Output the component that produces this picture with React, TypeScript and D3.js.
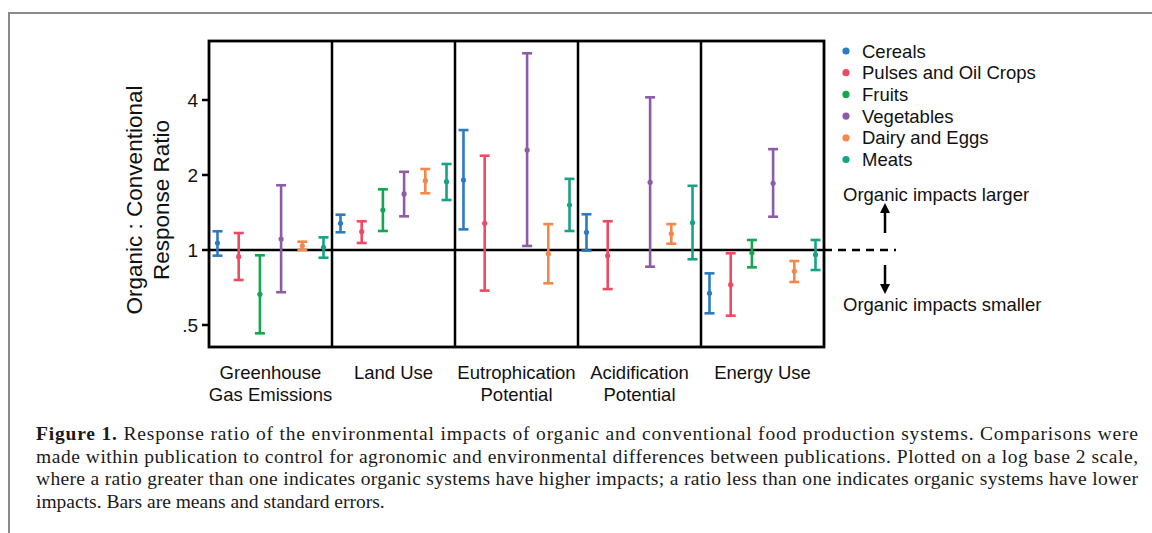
import React from 'react';
import * as d3 from 'd3';

// impact categories (x panels)
const categories = [
  ['Greenhouse', 'Gas Emissions'],
  ['Land Use'],
  ['Eutrophication', 'Potential'],
  ['Acidification', 'Potential'],
  ['Energy Use'],
];

const seriesNames = ['Cereals', 'Pulses and Oil Crops', 'Fruits', 'Vegetables', 'Dairy and Eggs', 'Meats'];
const seriesColors = ['#2b7bc1', '#ef4a63', '#14a74f', '#8e5ba8', '#f4874a', '#15a386'];

// [mean, lower, upper] per category, null where no data
type Est = [number, number, number] | null;
const cereals: Est[] = [[1.067, 0.949, 1.189], [1.28, 1.178, 1.386], [1.91, 1.21, 3.03], [1.178, 0.994, 1.391], [0.67, 0.557, 0.806]];
const pulses: Est[] = [[0.94, 0.758, 1.17], [1.184, 1.067, 1.304], [1.28, 0.687, 2.39], [0.949, 0.697, 1.304], [0.726, 0.545, 0.97]];
const fruits: Est[] = [[0.664, 0.463, 0.952], [1.447, 1.192, 1.752], null, null, [0.975, 0.852, 1.097]];
const vegetables: Est[] = [[1.107, 0.677, 1.819], [1.679, 1.365, 2.06], [2.52, 1.038, 6.16], [1.87, 0.857, 4.1], [1.852, 1.36, 2.54]];
const dairy: Est[] = [[1.04, 1.003, 1.08], [1.897, 1.689, 2.114], [0.964, 0.735, 1.27], [1.162, 1.06, 1.27], [0.821, 0.744, 0.903]];
const meats: Est[] = [[1.025, 0.931, 1.124], [1.88, 1.587, 2.214], [1.516, 1.192, 1.93], [1.287, 0.918, 1.81], [0.958, 0.831, 1.097]];
const seriesData = [cereals, pulses, fruits, vegetables, dairy, meats];

const yTicks = [0.5, 1, 2, 4];
const yTickLabels = ['.5', '1', '2', '4'];

const captionLines = [
  'made within publication to control for agronomic and environmental differences between publications. Plotted on a log base 2 scale,',
  'where a ratio greater than one indicates organic systems have higher impacts; a ratio less than one indicates organic systems have lower',
  'impacts. Bars are means and standard errors.',
];

const W = 1152;
const H = 533;
const plot = { left: 209, right: 824, top: 41, bottom: 347 };
const sans = '"Liberation Sans", Arial, Helvetica, sans-serif';
const serif = '"Liberation Serif", "Times New Roman", serif';

export default function App() {
  const x = d3.scaleBand<number>()
    .domain(categories.map((_, i) => i))
    .range([plot.left, plot.right])
    .padding(0);

  const inner = d3.scalePoint<number>()
    .domain(seriesNames.map((_, i) => i))
    .range([0, x.bandwidth()])
    .padding(0.4);

  const y = d3.scaleLog().base(2)
    .domain([0.408, 6.9])
    .range([plot.bottom, plot.top]);

  const y1 = y(1);
  const cap = 5;

  return (
    <svg width={W} height={H} style={{ position: 'absolute', left: 0, top: 0, background: '#fff' }}
      fontFamily={sans}>
      {/* page frame */}
      <line x1={9} x2={W} y1={13} y2={13} stroke="#8a8a8a" strokeWidth={2} />
      <line x1={9} x2={9} y1={12} y2={H} stroke="#8a8a8a" strokeWidth={2} />

      {/* reference line at 1 */}
      <line x1={plot.left} x2={plot.right} y1={y1} y2={y1} stroke="#000" strokeWidth={2.5} />
      <line x1={plot.right} x2={896} y1={y1} y2={y1} stroke="#000" strokeWidth={2.5} strokeDasharray="8,6" />

      {/* panel dividers and box */}
      {categories.slice(1).map((_, i) => (
        <line key={i} x1={x(i + 1)} x2={x(i + 1)} y1={plot.top} y2={plot.bottom} stroke="#000" strokeWidth={2.5} />
      ))}
      <rect x={plot.left} y={plot.top} width={plot.right - plot.left} height={plot.bottom - plot.top}
        fill="none" stroke="#000" strokeWidth={2.8} />

      {/* y axis */}
      {yTicks.map((t, i) => (
        <g key={t}>
          <line x1={plot.left - 7} x2={plot.left} y1={y(t)} y2={y(t)} stroke="#000" strokeWidth={2.5} />
          <text x={plot.left - 11} y={y(t)} dy="0.35em" textAnchor="end" fontSize={19} fill="#111">{yTickLabels[i]}</text>
        </g>
      ))}
      <text transform="translate(142,200) rotate(-90)" textAnchor="middle" fontSize={22.5} fill="#111">Organic : Conventional</text>
      <text transform="translate(169,200) rotate(-90)" textAnchor="middle" fontSize={22.5} fill="#111">Response Ratio</text>

      {/* category labels */}
      {categories.map((lines, i) => (
        <text key={i} x={(x(i) as number) + x.bandwidth() / 2} y={379} textAnchor="middle" fontSize={18.5} fill="#111">
          {lines.map((l, j) => (
            <tspan key={j} x={(x(i) as number) + x.bandwidth() / 2} dy={j === 0 ? 0 : 22}>{l}</tspan>
          ))}
        </text>
      ))}

      {/* error bars */}
      {seriesData.map((s, si) => (
        <g key={si} stroke={seriesColors[si]} fill={seriesColors[si]}>
          {s.map((d, ci) => {
            if (!d) return null;
            const cx = (x(ci) as number) + (inner(si) as number);
            const [m, lo, hi] = d;
            return (
              <g key={ci}>
                <line x1={cx} x2={cx} y1={y(lo)} y2={y(hi)} strokeWidth={2.6} />
                <line x1={cx - cap} x2={cx + cap} y1={y(lo)} y2={y(lo)} strokeWidth={2.6} />
                <line x1={cx - cap} x2={cx + cap} y1={y(hi)} y2={y(hi)} strokeWidth={2.6} />
                <circle cx={cx} cy={y(m)} r={2.6} stroke="none" />
              </g>
            );
          })}
        </g>
      ))}

      {/* legend */}
      {seriesNames.map((n, i) => (
        <g key={n} transform={`translate(846,${51 + i * 21.7})`}>
          <circle r={3.6} fill={seriesColors[i]} />
          <text x={16} dy="0.36em" fontSize={18.5} fill="#111">{n}</text>
        </g>
      ))}

      {/* direction annotations */}
      <text x={843} y={201} fontSize={18.5} fill="#111">Organic impacts larger</text>
      <line x1={885} x2={885} y1={233} y2={212} stroke="#000" strokeWidth={2.5} />
      <path d="M880,213 L890,213 L885,203 Z" fill="#000" />
      <line x1={885} x2={885} y1={265} y2={285} stroke="#000" strokeWidth={2.5} />
      <path d="M880,284 L890,284 L885,294 Z" fill="#000" />
      <text x={843} y={311} fontSize={18.5} fill="#111">Organic impacts smaller</text>

      {/* caption */}
      <g fontFamily={serif} fontSize={19.5} fill="#1a1a1a">
        <text x={36} y={440} textLength={1102} lengthAdjust="spacing">
          <tspan fontWeight="bold">Figure 1.</tspan>
          <tspan>{'  Response ratio of the environmental impacts of organic and conventional food production systems. Comparisons were'}</tspan>
        </text>
        <text x={36} y={462.5} textLength={1102} lengthAdjust="spacing">{captionLines[0]}</text>
        <text x={36} y={485} textLength={1102} lengthAdjust="spacing">{captionLines[1]}</text>
        <text x={36} y={507.5}>{captionLines[2]}</text>
      </g>
    </svg>
  );
}
